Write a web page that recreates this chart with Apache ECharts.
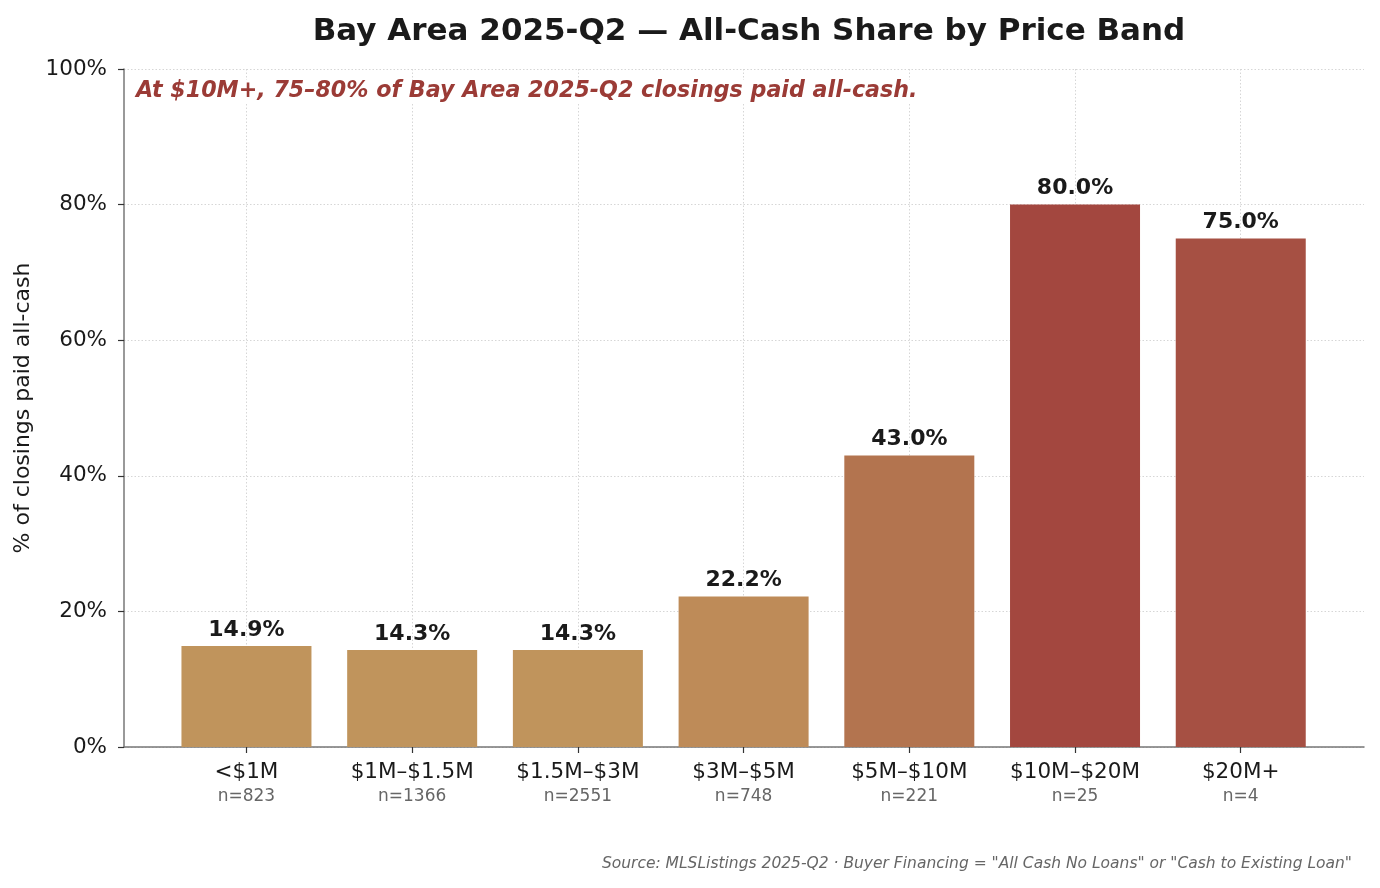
<!DOCTYPE html>
<html>
<head>
    <meta charset="utf-8">
    <title>Bay Area 2025-Q2 All-Cash Share</title>
    <script src="https://cdn.jsdelivr.net/npm/echarts@6/dist/echarts.min.js"></script>
    <style>
        html, body { margin: 0; padding: 0; background: #fff; }
        #chart { width: 1380px; height: 888px; }
    </style>
</head>
<body>
    <div id="chart"></div>
    <script>
        // data
        var bands = ['<$1M', '$1M–$1.5M', '$1.5M–$3M', '$3M–$5M', '$5M–$10M', '$10M–$20M', '$20M+'];
        var counts = [823, 1366, 2551, 748, 221, 25, 4];
        var cashShare = [14.9, 14.3, 14.3, 22.2, 43.0, 80.0, 75.0];
        var yTicks = [0, 20, 40, 60, 80, 100];

        var barColors = ['#C0945C', '#C0945C', '#C0945C', '#BE8B58', '#B3744F', '#A3473F', '#A65043'];
        var font = 'DejaVu Sans';
        var gridLine = { color: '#d6d6d6', type: [1.5, 2], width: 1 };

        var chart = echarts.init(document.getElementById('chart'));

        var option = {
            backgroundColor: '#ffffff',
            animation: false,
            textStyle: { fontFamily: font },
            title: {
                text: 'Bay Area 2025-Q2 — All-Cash Share by Price Band',
                left: 744,
                top: 11,
                textAlign: 'center',
                textStyle: { fontFamily: font, fontSize: 31, fontWeight: 'bold', color: '#1a1a1a' }
            },
            grid: [
                // outer frame: y axis, horizontal grid, x axis line
                { left: 124, right: 16, top: 69, bottom: 141 },
                // inner: bars, category ticks and labels
                { left: 163.6, right: 56.4, top: 69, bottom: 141 }
            ],
            xAxis: [
                {
                    type: 'value', gridIndex: 0, min: 0, max: 1,
                    axisLine: { show: true, lineStyle: { color: '#777', width: 1.5 } },
                    axisTick: { show: false },
                    axisLabel: { show: false },
                    splitLine: { show: false }
                },
                {
                    type: 'category', gridIndex: 1, data: bands,
                    axisLine: { show: false },
                    axisTick: { show: true, alignWithLabel: true, length: 6, lineStyle: { color: '#333', width: 1.2 } },
                    axisLabel: {
                        interval: 0,
                        margin: 12,
                        formatter: function (v, i) {
                            return '{a|' + v + '}\n{b|n=' + counts[i] + '}';
                        },
                        rich: {
                            a: { fontFamily: font, fontSize: 21.5, color: '#1a1a1a', lineHeight: 26 },
                            b: { fontFamily: font, fontSize: 17, color: '#666', lineHeight: 24 }
                        }
                    },
                    splitLine: { show: true, alignWithLabel: true, lineStyle: gridLine }
                }
            ],
            yAxis: [
                {
                    type: 'value', gridIndex: 0,
                    min: yTicks[0], max: yTicks[yTicks.length - 1], interval: 20,
                    name: '% of closings paid all-cash',
                    nameLocation: 'middle',
                    nameGap: 84,
                    nameTextStyle: { fontFamily: font, fontSize: 22, color: '#1a1a1a' },
                    axisLine: { show: true, lineStyle: { color: '#777', width: 1.5 } },
                    axisTick: { show: true, length: 6, lineStyle: { color: '#333', width: 1.2 } },
                    axisLabel: {
                        formatter: '{value}%', fontFamily: font, fontSize: 21.5, color: '#1a1a1a', margin: 17,
                        padding: [3, 0, 0, 0]
                    },
                    splitLine: { show: true, lineStyle: gridLine }
                },
                {
                    type: 'value', gridIndex: 1, min: 0, max: 100,
                    show: false, splitLine: { show: false }
                }
            ],
            series: [
                {
                    type: 'bar',
                    xAxisIndex: 1,
                    yAxisIndex: 1,
                    barWidth: 130,
                    data: cashShare.map(function (v, i) {
                        return { value: v, itemStyle: { color: barColors[i] } };
                    }),
                    label: {
                        show: true,
                        position: 'top',
                        distance: 5,
                        formatter: function (p) { return p.value.toFixed(1) + '%'; },
                        fontFamily: font, fontSize: 22, fontWeight: 'bold', color: '#1a1a1a'
                    }
                }
            ],
            graphic: [
                {
                    type: 'text', left: 136, top: 80, z: 100,
                    style: {
                        text: 'At $10M+, 75–80% of Bay Area 2025-Q2 closings paid all-cash.',
                        fontFamily: font, fontSize: 22.2, fontStyle: 'italic', fontWeight: 'bold', fill: '#9B3B36',
                        backgroundColor: '#ffffff'
                    }
                },
                {
                    type: 'text', right: 28, top: 856, z: 100,
                    style: {
                        text: 'Source: MLSListings 2025-Q2 · Buyer Financing = "All Cash No Loans" or "Cash to Existing Loan"',
                        fontFamily: font, fontSize: 15.5, fontStyle: 'italic', fill: '#666'
                    }
                }
            ]
        };

        chart.setOption(option);

        window.onresize = function () {
            chart.resize();
        };
    </script>
</body>
</html>
